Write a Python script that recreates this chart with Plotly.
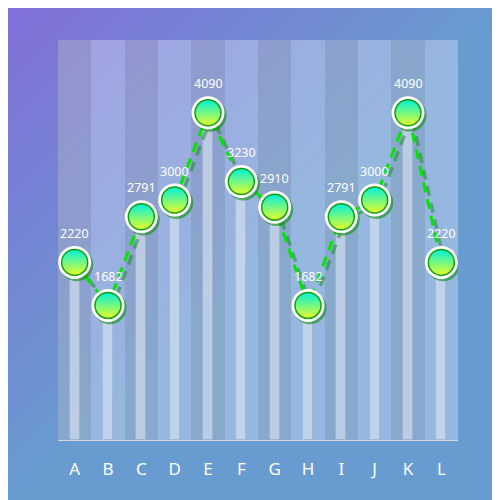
import base64
import plotly.graph_objects as go

# data
categories = ['A', 'B', 'C', 'D', 'E', 'F', 'G', 'H', 'I', 'J', 'K', 'L']
values = [2220, 1682, 2791, 3000, 4090, 3230, 2910, 1682, 2791, 3000, 4090, 2220]
y_max = 5000

xs = list(range(len(categories)))

# diagonal gradient background (purple top-left -> blue)
bg_svg = ('<svg xmlns="http://www.w3.org/2000/svg" width="100" height="100" '
          'viewBox="0 0 100 100" preserveAspectRatio="none">'
          '<defs><linearGradient id="g" x1="0" y1="0" x2="1" y2="1">'
          '<stop offset="0" stop-color="#806fd7"/>'
          '<stop offset="0.5" stop-color="#689bd0"/>'
          '<stop offset="1" stop-color="#689bd0"/>'
          '</linearGradient></defs>'
          '<rect width="100" height="100" fill="url(#g)"/></svg>')
bg_uri = 'data:image/svg+xml;base64,' + base64.b64encode(bg_svg.encode()).decode()

stripe_colors = ['rgba(182,186,198,0.42)' if i % 2 == 0 else 'rgba(215,222,242,0.42)'
                 for i in xs]

fig = go.Figure()

# column stripes
fig.add_trace(go.Bar(x=xs, y=[y_max] * len(xs), width=1,
                     marker=dict(color=stripe_colors, line=dict(width=0), cornerradius=0),
                     hoverinfo='skip', showlegend=False))

# thin rounded bars
fig.add_trace(go.Bar(x=xs, y=values, width=0.3,
                     marker=dict(color='rgba(222,230,244,0.6)', cornerradius=5,
                                 line=dict(color='rgba(150,165,200,0.35)', width=1)),
                     hoverinfo='skip', showlegend=False))

# dashed line + its shadow
fig.add_trace(go.Scatter(x=[x + 0.11 for x in xs], y=[v - 45 for v in values],
                         mode='lines',
                         line=dict(color='rgba(0,140,0,0.45)', width=3.5, dash='10px,7px'),
                         hoverinfo='skip', showlegend=False))
fig.add_trace(go.Scatter(x=xs, y=values, mode='lines',
                         line=dict(color='#00e600', width=3, dash='10px,7px'),
                         hoverinfo='skip', showlegend=False))

# marker shadow
fig.add_trace(go.Scatter(x=[x + 0.06 for x in xs], y=[v - 30 for v in values],
                         mode='markers',
                         marker=dict(size=33, color='rgba(0,140,0,0.55)', line=dict(width=0)),
                         hoverinfo='skip', showlegend=False))
# white ring
fig.add_trace(go.Scatter(x=xs, y=values, mode='markers',
                         marker=dict(size=33, color='white', line=dict(width=0)),
                         hoverinfo='skip', showlegend=False))
# gradient ball
fig.add_trace(go.Scatter(x=xs, y=values, mode='markers',
                         marker=dict(size=26, color='#00f0dc',
                                     gradient=dict(type='vertical', color='#e8ff2a'),
                                     line=dict(color='#10a010', width=1.5)),
                         showlegend=False))

for x, v in zip(xs, values):
    fig.add_annotation(x=x, y=v, text=str(v), showarrow=False,
                       yshift=29, yanchor='middle',
                       font=dict(family='Noto Sans', size=12.5, color='white'))

fig.update_layout(
    width=500, height=500,
    margin=dict(l=50, r=50, t=32, b=68),
    paper_bgcolor='#f3f4f8',
    plot_bgcolor='rgba(0,0,0,0)',
    barmode='overlay',
    bargap=0,
    showlegend=False,
    images=[dict(source=bg_uri, xref='paper', yref='paper',
                 x=-0.125, y=1.08, sizex=1.25, sizey=1.25,
                 xanchor='left', yanchor='top', sizing='stretch',
                 layer='below')],
    xaxis=dict(range=[-0.5, 11.5], tickvals=xs, ticktext=categories,
               showgrid=False, zeroline=False, showline=True,
               linecolor='#d6d8e0', linewidth=1, ticks='',
               ticklabelstandoff=14,
               tickfont=dict(family='Noto Sans', size=17, color='white')),
    yaxis=dict(range=[0, y_max], visible=False, showgrid=False),
)

fig.write_html("out.html")
